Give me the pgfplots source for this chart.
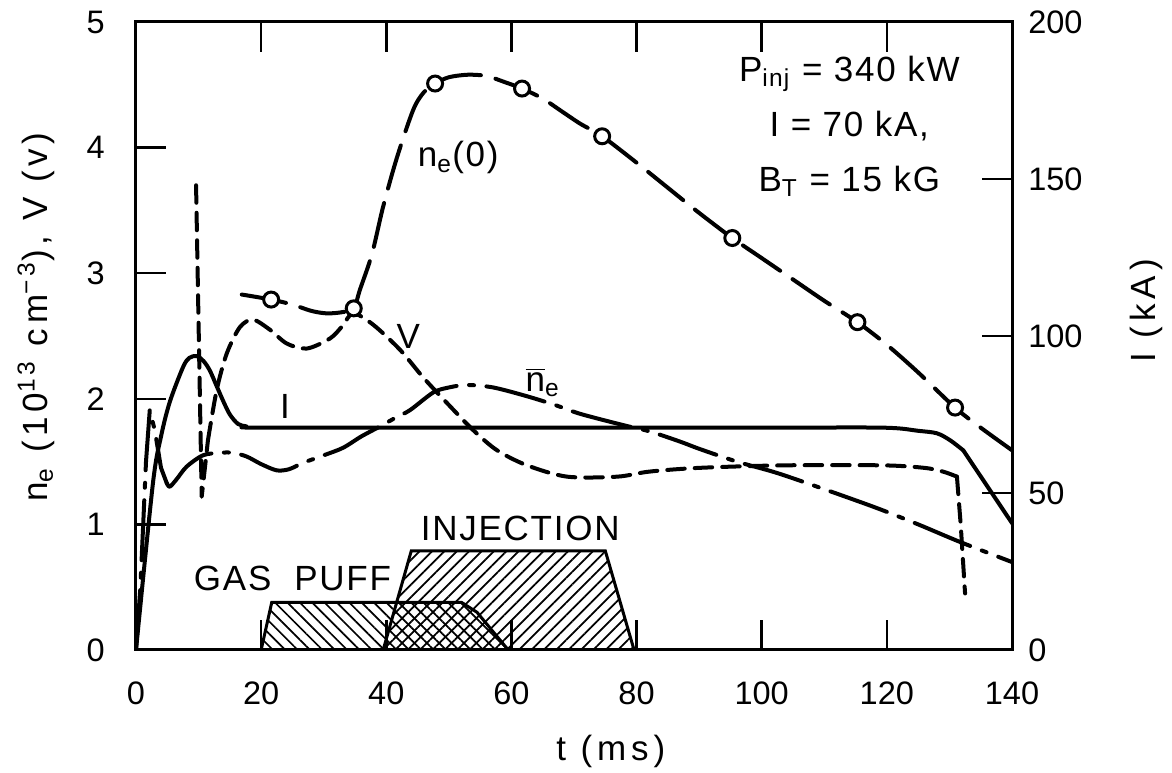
\documentclass[border=0pt]{standalone}
\usepackage{fontspec}
\setmainfont{Liberation Sans}
\newfontfamily\lab[LetterSpace=14]{Liberation Sans}
\newfontfamily\ann[LetterSpace=5]{Liberation Sans}
\usepackage{pgfplots}
\pgfplotsset{compat=1.18}
\usetikzlibrary{patterns.meta}

\pgfplotsset{
  common/.style={
    width=350.4pt, height=251.2pt, scale only axis,
    xmin=0, xmax=140,
    tick align=inside, major tick length=12pt,
    every tick/.style={line width=1pt, black},
    axis line style={line width=1.2pt},
    tick label style={font=\fontsize{13}{15}\selectfont},
    label style={font=\lab\fontsize{14}{16}\selectfont},
    /pgf/number format/assume math mode=true,
  },
  curve/.style={black, line width=1.6pt, line join=round, line cap=round},
}

\begin{document}
\begin{tikzpicture}
\begin{axis}[common,
  ymin=0, ymax=5,
  xtick={0,20,...,140}, ytick={0,1,...,5},
  xtick pos=both, ytick pos=left,
  xticklabel style={yshift=-9pt},
  yticklabel style={xshift=-9pt},
  xlabel={t (ms)},
  xlabel style={at={(axis description cs:0.542,-0.162)}, anchor=center},
  ylabel={n\textsubscript{e} (10\textsuperscript{13} cm\textsuperscript{−3}), V (v)},
  ylabel style={at={(axis description cs:-0.114,0.53)}, anchor=center},
]
\coordinate (SW) at (rel axis cs:0,0);
\coordinate (NE) at (rel axis cs:1,1);

% gas puff and injection windows
\addplot[black, line width=1.2pt, pattern={Lines[angle=-45,distance=3.5pt,line width=0.7pt]}]
  coordinates {(20,0)(21.7,0.38)(52,0.38)(54.5,0.3)(59.5,0)} \closedcycle;
\addplot[black, line width=1.2pt, pattern={Lines[angle=45,distance=3.5pt,line width=0.7pt]}]
  coordinates {(39.5,0)(44,0.79)(75,0.79)(79.6,0)} \closedcycle;

% n_e(0)
\addplot[curve, smooth, dash pattern=on 18pt off 6pt] coordinates {
  (16.9,2.83)(21.6,2.79)(25,2.75)(28,2.70)(30.5,2.68)(33,2.69)(34.8,2.72)
  (35.8,2.87)(37.7,3.15)(39.5,3.53)(41.7,3.92)(44.3,4.3)(46,4.44)(47.8,4.51)
  (50,4.56)(53,4.58)(56,4.57)(59,4.52)(61.7,4.47)(65,4.39)(68,4.29)(71,4.19)
  (74.5,4.09)(80,3.88)(85,3.68)(90,3.48)(95.3,3.28)(100,3.12)(105,2.95)
  (110,2.78)(115.3,2.61)(120,2.43)(125,2.21)(130.9,1.93)(135,1.77)(140,1.59)};
\addplot[only marks, mark=*, mark size=3pt, mark options={fill=white, draw=black, line width=1.2pt}]
  coordinates {(21.6,2.79)(34.8,2.72)(47.8,4.51)(61.7,4.47)(74.5,4.09)(95.3,3.28)(115.3,2.61)(130.9,1.93)};

% V
\addplot[curve, dash pattern=on 7pt off 4pt] coordinates {
  (9.6,3.7)(10.5,1.22)(11.5,1.67)};
\addplot[curve, smooth, dash pattern=on 7pt off 4pt] coordinates {
  (11.5,1.67)(12.9,2.07)(14.5,2.36)(16.6,2.57)(18.7,2.63)(21.4,2.55)(24.1,2.44)
  (27.3,2.40)(31,2.48)(33,2.58)(34.7,2.68)(37.9,2.59)(42.2,2.39)(45.9,2.17)
  (50.2,1.94)(53.9,1.75)(57.7,1.59)(62.5,1.47)(68.9,1.38)(76.9,1.38)(82,1.42)
  (90,1.45)(103.4,1.47)(119.4,1.47)(126,1.45)(129,1.42)(131.2,1.38)};
\addplot[curve, dash pattern=on 7pt off 4pt] coordinates {
  (131.2,1.38)(131.8,1.0)(132.5,0.45)};

% line-averaged n_e
\addplot[curve, dash pattern=on 24pt off 5pt on 2pt off 5pt] coordinates {
  (0,0)(0.7,0.5)(1.6,1.5)(2.2,1.91)(3.0,1.75)(4.0,1.45)(4.9,1.33)};
\addplot[curve, smooth, dash pattern=on 24pt off 5pt on 2pt off 5pt] coordinates {
  (4.9,1.33)(5.4,1.30)(6.5,1.36)(8.1,1.46)(10.7,1.55)(13.4,1.57)(15.5,1.57)
  (17.7,1.54)(20,1.48)(22.5,1.43)(24.5,1.44)(26.7,1.49)(30,1.55)(33.1,1.61)
  (36,1.70)(39,1.78)(41.5,1.85)(43.8,1.91)(47.5,2.05)(50,2.09)(52.9,2.11)
  (57.1,2.09)(62.5,2.02)(67,1.95)(71,1.88)(77.9,1.79)(82.1,1.74)(86.9,1.66)
  (90.1,1.60)(96,1.50)(102.4,1.41)(110,1.28)(118.4,1.13)(125,1.00)(131.7,0.86)(140,0.70)};

% labels
\begin{scope}[font=\ann\fontsize{14}{16}\selectfont]
\node at (axis cs:51.5,3.92) {n\textsubscript{e}(0)};
\node at (axis cs:43.5,2.5) {V};
\node at (axis cs:65,2.13) {$\overline{\mbox{n}}$\textsubscript{e}};
\node at (axis cs:23.8,1.94) {I};
\node at (axis cs:25,0.57) {GAS\ \ PUFF};
\node at (axis cs:61.4,0.97) {INJECTION};
\node[align=center, font=\ann\fontsize{14}{22}\selectfont] at (axis cs:114,4.17)
  {P\textsubscript{inj} = 340 kW\\ I = 70 kA,\\ B\textsubscript{T} = 15 kG};
\end{scope}
\end{axis}

\begin{axis}[common,
  ymin=0, ymax=200,
  axis x line=none, axis y line*=right,
  ytick={0,50,...,200},
  yticklabel style={xshift=3pt},
  ylabel={I (kA)},
  ylabel style={at={(axis description cs:1.154,0.54)}, anchor=center},
]
\addplot[curve, smooth] coordinates {
  (0,0)(2.7,53)(4,68)(5.4,79)(7.5,90)(8.5,93)(9.7,93.6)(10.8,92)(11.8,89)
  (12.9,84)(14,79)(15,75)(16.3,72)(17.7,71.2)(20,70.8)(60,70.8)(100,70.8)
  (119.4,70.8)(125,69.8)(128,69)(130.1,66.8)(132.2,63.6)};
\addplot[curve] coordinates {(132.2,63.6)(140,40.4)};
\end{axis}

\pgfresetboundingbox
\path[use as bounding box] ([shift={(-54.4pt,-49.2pt)}]SW) rectangle ([shift={(64pt,8.8pt)}]NE);
\end{tikzpicture}
\end{document}
